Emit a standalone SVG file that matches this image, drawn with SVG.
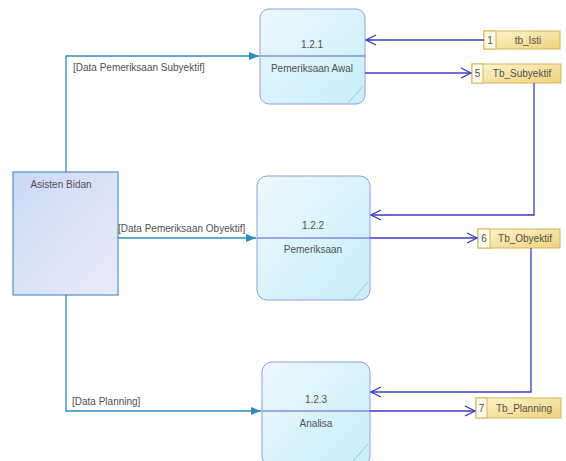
<svg xmlns="http://www.w3.org/2000/svg" width="566" height="461" viewBox="0 0 566 461">
  <defs>
    <linearGradient id="gEntity" x1="0" y1="0" x2="1" y2="1">
      <stop offset="0" stop-color="#cbd9f6"/>
      <stop offset="1" stop-color="#ebebf8"/>
    </linearGradient>
    <linearGradient id="gProcess" x1="0" y1="0" x2="1" y2="1">
      <stop offset="0" stop-color="#eef8fd"/>
      <stop offset="1" stop-color="#c6eef9"/>
    </linearGradient>
    <linearGradient id="gStore" x1="0" y1="0" x2="1" y2="1">
      <stop offset="0" stop-color="#fdf6cf"/>
      <stop offset="1" stop-color="#efd27a"/>
    </linearGradient>
    <marker id="arrFilled" viewBox="0 0 10 10" refX="10" refY="5" markerWidth="10" markerHeight="10" markerUnits="userSpaceOnUse" orient="auto">
      <path d="M0,1 L10,5 L0,9 Z" fill="#2b8cc4"/>
    </marker>
    <marker id="arrOpen" viewBox="0 0 12 12" refX="11" refY="6" markerWidth="12" markerHeight="12" markerUnits="userSpaceOnUse" orient="auto">
      <path d="M1,1 L11,6 L1,11" fill="none" stroke="#3a3ac8" stroke-width="1.3"/>
    </marker>
  </defs>
  <style>
    text { font-family: "Liberation Sans", Arial, sans-serif; font-size: 10px; fill: #505050; }
    .c { text-anchor: middle; }
    .entity { fill: url(#gEntity); stroke: #4f95c4; stroke-width: 1.2; }
    .process { fill: url(#gProcess); stroke: #8f9ee6; stroke-width: 1; }
    .divider { stroke: #5a5ad0; stroke-width: 1; }
    .ear { stroke: #9ab0e8; stroke-width: 0.8; fill: none; }
    .store { fill: url(#gStore); stroke: #d4b45a; stroke-width: 1; }
    .storeNum { fill: #fffbea; stroke: #d4b45a; stroke-width: 1; }
    .flowIn { fill: none; stroke: #2b8cc4; stroke-width: 1.3; marker-end: url(#arrFilled); }
    .flowStore { fill: none; stroke: #3a3ac8; stroke-width: 1.3; marker-end: url(#arrOpen); }
  </style>

  <rect width="566" height="461" fill="#ffffff"/>

  <!-- external entity -->
  <g id="asisten-bidan">
    <rect class="entity" x="13" y="172" width="105" height="123"/>
    <text x="61" y="188" class="c">Asisten Bidan</text>
  </g>

  <!-- processes -->
  <g id="proc-1-2-1">
    <rect class="process" x="260" y="9" width="105" height="95" rx="9"/>
    <line class="divider" x1="260" y1="56" x2="365" y2="56"/>
    <path class="ear" d="M363,86 L348,103"/>
    <text x="312" y="48" class="c">1.2.1</text>
    <text x="312" y="72" class="c">Pemeriksaan Awal</text>
  </g>

  <g id="proc-1-2-2">
    <rect class="process" x="257" y="176" width="113" height="124" rx="10"/>
    <line class="divider" x1="257" y1="238" x2="370" y2="238"/>
    <path class="ear" d="M368,282 L353,299"/>
    <text x="313" y="229" class="c">1.2.2</text>
    <text x="313" y="253" class="c">Pemeriksaan</text>
  </g>

  <g id="proc-1-2-3">
    <rect class="process" x="262" y="362" width="108" height="104" rx="10"/>
    <line class="divider" x1="262" y1="411" x2="370" y2="411"/>
    <path class="ear" d="M368,444 L353,461"/>
    <text x="316" y="403" class="c">1.2.3</text>
    <text x="316" y="427" class="c">Analisa</text>
  </g>

  <!-- data stores -->
  <g id="store-tb-isti">
    <rect class="store" x="484" y="31" width="76" height="18"/>
    <rect class="storeNum" x="484" y="31" width="12" height="18"/>
    <text x="490" y="43.5" class="c">1</text>
    <text x="528" y="43.5" class="c">tb_Isti</text>
  </g>

  <g id="store-tb-subyektif">
    <rect class="store" x="472" y="64" width="89" height="19"/>
    <rect class="storeNum" x="472" y="64" width="11" height="19"/>
    <text x="477.5" y="77" class="c">5</text>
    <text x="522" y="77" class="c">Tb_Subyektif</text>
  </g>

  <g id="store-tb-obyektif">
    <rect class="store" x="478" y="229" width="82" height="19"/>
    <rect class="storeNum" x="478" y="229" width="12" height="19"/>
    <text x="484" y="242" class="c">6</text>
    <text x="525" y="242" class="c">Tb_Obyektif</text>
  </g>

  <g id="store-tb-planning">
    <rect class="store" x="476" y="398" width="85" height="20"/>
    <rect class="storeNum" x="476" y="398" width="11" height="20"/>
    <text x="481.5" y="411.5" class="c">7</text>
    <text x="524" y="411.5" class="c">Tb_Planning</text>
  </g>

  <!-- data flows -->
  <g id="connectors">
    <path class="flowIn" d="M66,172 V56 H259"/>
    <text x="73" y="71">[Data Pemeriksaan Subyektif]</text>

    <path class="flowIn" d="M118,238 H256"/>
    <text x="118" y="232">[Data Pemeriksaan Obyektif]</text>

    <path class="flowIn" d="M66,295 V411 H261"/>
    <text x="72" y="405">[Data Planning]</text>

    <path class="flowStore" d="M484,40 H366"/>
    <path class="flowStore" d="M365,73 H471"/>
    <path class="flowStore" d="M534,83 V215 H371"/>
    <path class="flowStore" d="M370,238 H477"/>
    <path class="flowStore" d="M531,248 V392 H371"/>
    <path class="flowStore" d="M370,411 H475"/>
  </g>
</svg>
